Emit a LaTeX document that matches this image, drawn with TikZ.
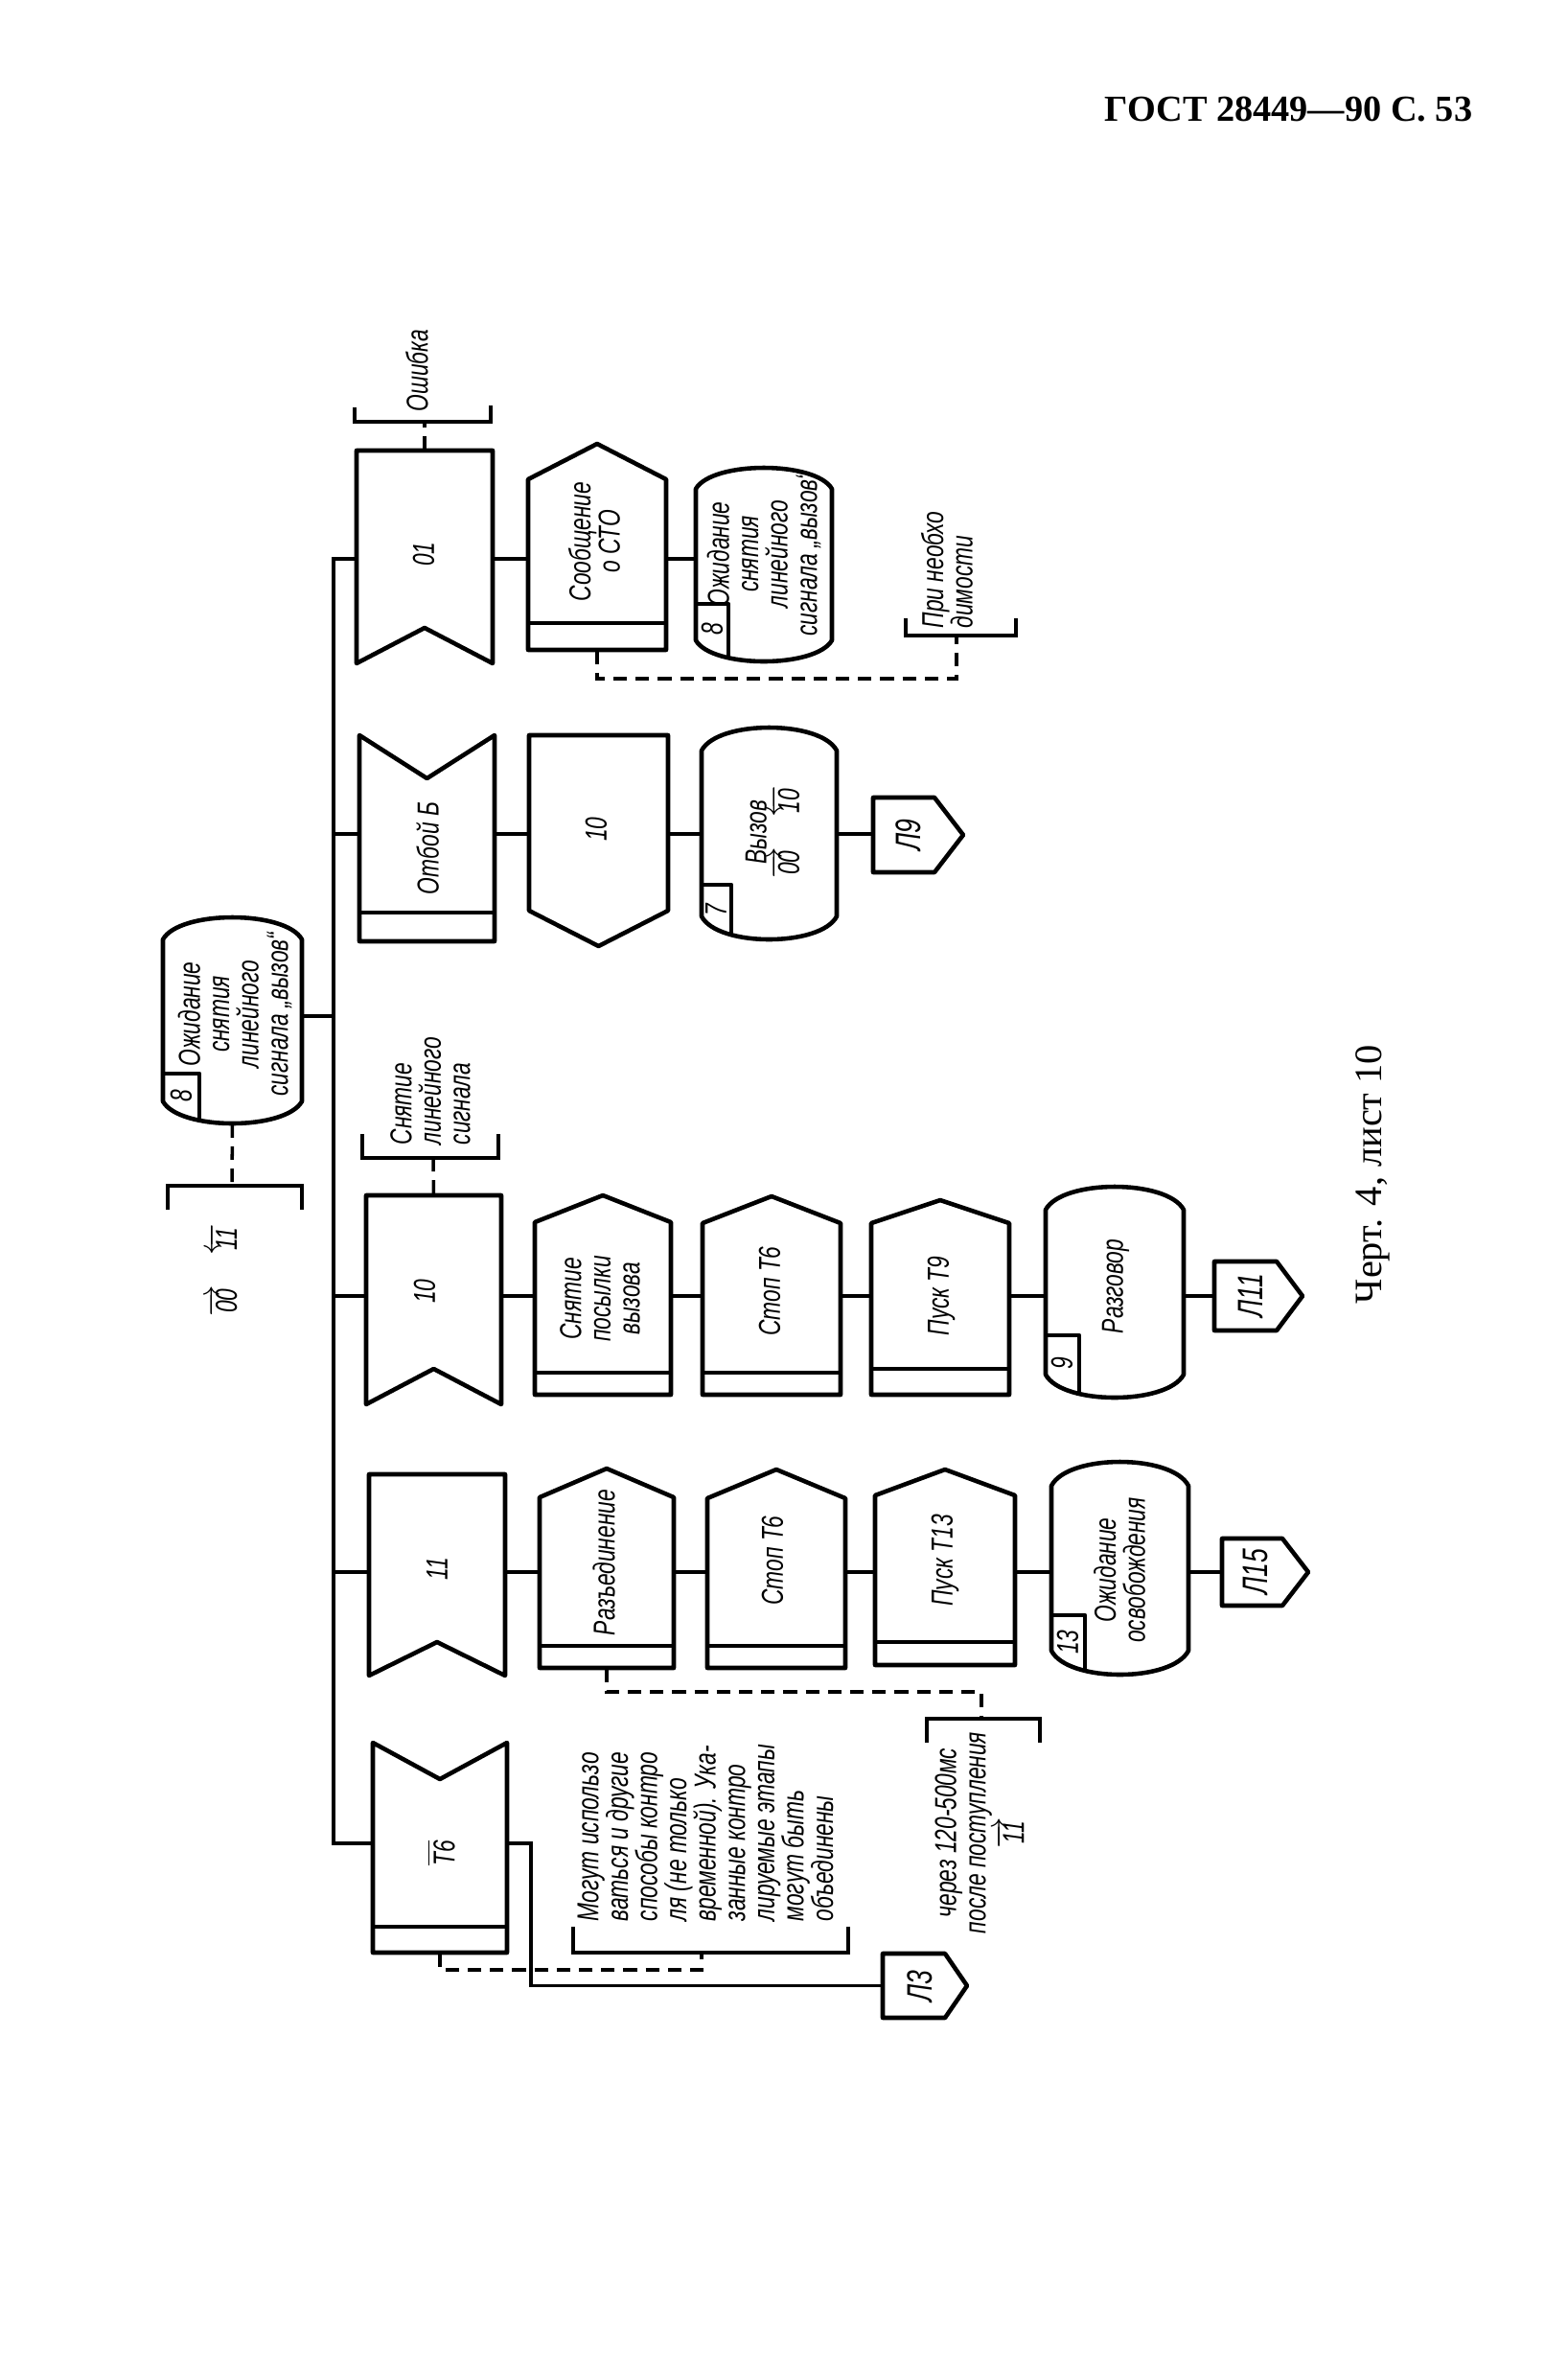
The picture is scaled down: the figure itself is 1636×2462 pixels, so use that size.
\documentclass[tikz,border=0pt]{standalone}
\usepackage{fontspec}
\setmainfont{Liberation Serif}
\newfontfamily\dr{Liberation Sans}[FakeStretch=0.72]
\usetikzlibrary{calc,fit}
% #1 name, #2 x1, #3 x2, #4 y top, #5 y bottom
\newcommand{\mk}[5]{\node[bx, fit={(#2,#4) (#3,#5)}] (#1) {};}
% input, notch at bottom
\newcommand{\inB}[6]{\mk{#1}{#2}{#3}{#4}{#5}\draw[shp] (#2,#4) -- (#3,#4) -- (#3,#5) -- ({(#2+#3)/2},{#5-#6}) -- (#2,#5) -- cycle;}
% input, notch at top, band at bottom
\newcommand{\inT}[7]{\mk{#1}{#2}{#3}{#4}{#5}\draw[shp] (#2,#4) -- ({(#2+#3)/2},{#4+#6}) -- (#3,#4) -- (#3,#5) -- (#2,#5) -- cycle; \draw[shp] (#2,{#5-#7}) -- (#3,{#5-#7});}
% task with pointed top and band at bottom
\newcommand{\taskH}[7]{\mk{#1}{#2}{#3}{#4}{#5}\draw[shp] (#2,#5) -- (#2,{#4+#6}) -- ({(#2+#3)/2},#4) -- (#3,{#4+#6}) -- (#3,#5) -- cycle; \draw[shp] (#2,{#5-#7}) -- (#3,{#5-#7});}
% pentagon pointing down
\newcommand{\pentD}[6]{\mk{#1}{#2}{#3}{#4}{#5}\draw[shp] (#2,#4) -- (#3,#4) -- (#3,{#5-#6}) -- ({(#2+#3)/2},#5) -- (#2,{#5-#6}) -- cycle;}
% connector pointing right
\newcommand{\pentR}[6]{\mk{#1}{#2}{#3}{#4}{#5}\draw[shp] (#2,#4) -- ({#3-#6},#4) -- (#3,{(#4+#5)/2}) -- ({#3-#6},#5) -- (#2,#5) -- cycle;}
% state with convex top and bottom
\newcommand{\stateS}[6]{\mk{#1}{#2}{#3}{#4}{#5}\draw[shp] (#2,{#4+#6}) .. controls ({#2+0.12*(#3-#2)},{#4-#6/3}) and ({#3-0.12*(#3-#2)},{#4-#6/3}) .. (#3,{#4+#6}) -- (#3,{#5-#6}) .. controls ({#3-0.12*(#3-#2)},{#5+#6/3}) and ({#2+0.12*(#3-#2)},{#5+#6/3}) .. (#2,{#5-#6}) -- cycle;}
\begin{document}
\begin{tikzpicture}[x=0.1mm,y=-0.1mm,
 shp/.style={line width=1.3pt, line join=round},
 ln/.style={line width=0.9pt},
 dsh/.style={line width=1pt, dash pattern=on 4pt off 2.6pt},
 brk/.style={line width=1.2pt},
 bx/.style={inner sep=0pt, draw=none},
 txt/.style={font=\dr\itshape\fontsize{9}{8.7}\selectfont, rotate=90, inner sep=0pt, align=center},
 ltxt/.style={txt, align=left, anchor=west},
 lbl/.style={txt, font=\dr\itshape\fontsize{10.5}{11}\selectfont}]
\useasboundingbox (0,0) rectangle (1636,2462);

% header and caption
\node[font=\bfseries\fontsize{10.9}{13}\selectfont, anchor=east, inner sep=0pt] (hdr) at (1537,114) {ГОСТ 28449—90 С. 53};
\node[rotate=90, font=\fontsize{11.5}{13}\selectfont, inner sep=0pt] (cap) at (1432,1225) {Черт. 4, лист 10};

% row coordinates on the bus
\coordinate (r1) at (348,583);
\coordinate (r2) at (348,870);
\coordinate (r3) at (348,1060);
\coordinate (r4) at (348,1352);
\coordinate (r5) at (348,1640);
\coordinate (r6) at (348,1923);

% ---------- start state ----------
\stateS{nS8}{170}{315}{957}{1172}{23}
\draw[shp] (170,1120) -- (208,1120) -- (208,1167);
\node[txt] (b8s) at (189,1143) {8};
\node[txt] (tS8) at (245,1058) {Ожидание\\снятия\\линейного\\сигнала „вызов“};
\draw[ln] (nS8.east |- r3) -- (r3);
\coordinate (c0011) at (242,1237);
\draw[brk] (175,1262) -- (175,1237) -- (315,1237) -- (315,1262);
\draw[dsh] (nS8.south) -- (c0011);
\node[txt] (t0011) at (232,1325) {$\overrightarrow{\hbox{00}}$\quad$\overleftarrow{\hbox{11}}$};

% ---------- row 1 ----------
\inB{n01}{372}{514}{470}{692}{37}
\node[txt] (t01) at (442,578) {01};
\draw[brk] (370,425) -- (370,440) -- (512,440) -- (512,423);
\coordinate (cErr) at (443,440);
\draw[dsh] (n01.north) -- (cErr);
\node[ltxt] (tErr) at (435,430) {Ошибка};
\taskH{nSoob}{551}{695}{463}{678}{37}{28}
\node[txt] (tSoob) at (620,565) {Сообщение\\о СТО};
\stateS{nS8a}{726}{868}{488}{690}{22}
\draw[shp] (726,630) -- (760,630) -- (760,686);
\node[txt] (b8a) at (743,656) {8};
\node[txt] (tS8a) at (797,578) {Ожидание\\снятия\\линейного\\сигнала „вызов“};
\draw[ln] (n01.east |- r1) -- (nSoob.west |- r1);
\draw[ln] (nSoob.east |- r1) -- (nS8a.west |- r1);
\coordinate (cNeoL) at (998,708);
\coordinate (cNeo) at (998,663);
\draw[dsh] (nSoob.south) -- (nSoob.south |- cNeoL) -- (cNeoL) -- (cNeo);
\draw[brk] (945,645) -- (945,663) -- (1060,663) -- (1060,645);
\node[ltxt] (tNeo) at (988,656) {При необхо\\димости};

% ---------- row 2 ----------
\inT{nOtb}{375}{516}{767}{982}{45}{30}
\node[txt] (tOtb) at (446,885) {Отбой Б};
\pentD{n10a}{552}{697}{767}{987}{37}
\node[txt] (t10a) at (622,865) {10};
\stateS{nVyz}{732}{873}{759}{980}{24}
\draw[shp] (732,923) -- (763,923) -- (763,976);
\node[txt] (b7) at (747,949) {7};
\node[txt] (tVyz) at (806,868) {Вызов\\$\overrightarrow{\hbox{00}}$\quad$\overleftarrow{\hbox{10}}$};
\pentR{nL9}{911}{1005}{832}{910}{30}
\node[lbl] (tL9) at (948,871) {Л9};
\draw[ln] (r2) -- (nOtb.west |- r2);
\draw[ln] (nOtb.east |- r2) -- (n10a.west |- r2);
\draw[ln] (n10a.east |- r2) -- (nVyz.west |- r2);
\draw[ln] (nVyz.east |- r2) -- (nL9.west |- r2);

% ---------- row 4 ----------
\draw[brk] (378,1183) -- (378,1208) -- (520,1208) -- (520,1183);
\coordinate (cSnl) at (452,1208);
\node[ltxt] (tSnl) at (449,1195) {Снятие\\линейного\\сигнала};
\inB{n10b}{382}{523}{1247}{1465}{37}
\node[txt] (t10b) at (443,1347) {10};
\draw[dsh] (cSnl) -- (n10b.north);
\taskH{nSnp}{558}{700}{1247}{1455}{28}{23}
\node[txt] (tSnp) at (626,1355) {Снятие\\посылки\\вызова};
\taskH{nSt1}{733}{877}{1248}{1455}{28}{23}
\node[txt] (tSt1) at (803,1347) {Стоп Т6};
\taskH{nP9}{909}{1053}{1252}{1455}{24}{27}
\node[txt] (tP9) at (982,1352) {Пуск Т9};
\stateS{nRaz}{1091}{1235}{1238}{1458}{24}
\draw[shp] (1091,1393) -- (1126,1393) -- (1126,1454);
\node[txt] (b9) at (1108,1422) {9};
\node[txt] (tRaz) at (1164,1342) {Разговор};
\pentR{nL11}{1267}{1359}{1316}{1388}{27}
\node[lbl] (tL11) at (1305,1352) {Л11};
\draw[ln] (r4) -- (n10b.west |- r4);
\draw[ln] (n10b.east |- r4) -- (nSnp.west |- r4);
\draw[ln] (nSnp.east |- r4) -- (nSt1.west |- r4);
\draw[ln] (nSt1.east |- r4) -- (nP9.west |- r4);
\draw[ln] (nP9.east |- r4) -- (nRaz.west |- r4);
\draw[ln] (nRaz.east |- r4) -- (nL11.west |- r4);

% ---------- row 5 ----------
\inB{n11}{385}{527}{1538}{1748}{35}
\node[txt] (t11) at (456,1637) {11};
\taskH{nRzd}{563}{703}{1532}{1740}{30}{23}
\node[txt] (tRzd) at (630,1630) {Разъединение};
\taskH{nSt2}{738}{882}{1533}{1740}{30}{23}
\node[txt] (tSt2) at (806,1628) {Стоп Т6};
\taskH{nP13}{913}{1059}{1533}{1737}{27}{24}
\node[txt] (tP13) at (986,1628) {Пуск Т13};
\stateS{nOsv}{1097}{1240}{1525}{1747}{25}
\draw[shp] (1097,1685) -- (1132,1685) -- (1132,1743);
\node[txt] (b13) at (1114,1713) {13};
\node[txt] (tOsv) at (1168,1638) {Ожидание\\освобождения};
\pentR{nL15}{1275}{1365}{1605}{1675}{27}
\node[lbl] (tL15) at (1310,1640) {Л15};
\draw[ln] (r5) -- (n11.west |- r5);
\draw[ln] (n11.east |- r5) -- (nRzd.west |- r5);
\draw[ln] (nRzd.east |- r5) -- (nSt2.west |- r5);
\draw[ln] (nSt2.east |- r5) -- (nP13.west |- r5);
\draw[ln] (nP13.east |- r5) -- (nOsv.west |- r5);
\draw[ln] (nOsv.east |- r5) -- (nL15.west |- r5);
\coordinate (cD5) at (1024,1765);
\coordinate (cCh) at (1024,1793);
\draw[dsh] (nRzd.south) -- (nRzd.south |- cD5) -- (cD5) -- (cCh);
\draw[brk] (967,1818) -- (967,1793) -- (1085,1793) -- (1085,1818);
\node[txt] (tCh) at (1022,1912) {через 120-500мс\\после поступления\\$\overrightarrow{\hbox{11}}$};

% ---------- row 6 ----------
\inT{nT6}{389}{529}{1818}{2037}{38}{27}
\node[txt] (tT6) at (460,1933) {$\overline{\hbox{Т6}}$};
\pentR{nL3}{921}{1009}{2038}{2105}{23}
\node[lbl] (tL3) at (960,2072) {Л3};
\coordinate (cT6a) at (554,1923);
\draw[ln] (nT6.east |- r6) -- (cT6a) -- (cT6a |- nL3.west) -- (nL3.west);
\coordinate (cD6) at (732,2055);
\coordinate (cMog) at (732,2037);
\draw[dsh] (nT6.south) -- (nT6.south |- cD6) -- (cD6) -- (cMog);
\draw[brk] (598,2010) -- (598,2037) -- (885,2037) -- (885,2010);
\node[ltxt] (tMog) at (736,2005) {Могут использо\\ваться и другие\\способы контро\\ля (не только\\временной). Ука-\\занные контро\\лируемые этапы\\могут быть\\объединены};

% ---------- bus ----------
\draw[ln] (n01.west |- r1) -- (r1) -- (r6) -- (nT6.west |- r6);
\end{tikzpicture}
\end{document}
